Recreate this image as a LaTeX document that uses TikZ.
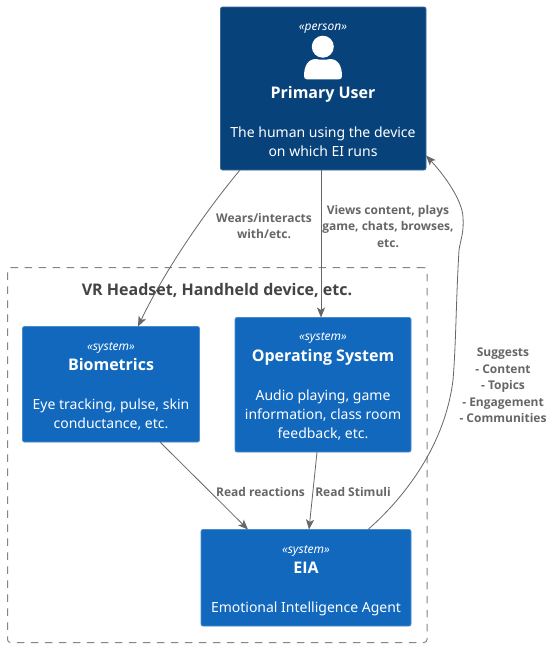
\documentclass[tikz,border=0pt]{standalone}
\usepackage{fontspec}
\setmainfont{Noto Sans}
\newfontfamily\boldfam{Open Sans}
\usetikzlibrary{arrows.meta,calc}
\definecolor{personfill}{HTML}{08427B}
\definecolor{personline}{HTML}{3C6A96}
\definecolor{sysfill}{HTML}{1168BD}
\definecolor{sysline}{HTML}{4A8BCB}
\definecolor{linkgray}{HTML}{666666}
\definecolor{boundgray}{HTML}{444444}
\tikzset{
  x=1pt,y=-1pt,
  box/.style={rounded corners=2pt,minimum width=#1,inner sep=0pt,line width=.8pt,anchor=north west,outer sep=0pt},
  sysbox/.style={draw=sysline,fill=sysfill},
  perbox/.style={draw=personline,fill=personfill},
  link/.style={draw=linkgray,line width=.8pt,-{Stealth[length=10pt,width=8pt,inset=2.5pt,fill=linkgray]}},
  stereotxt/.style={inner sep=0pt,anchor=base,text=white,font=\fontsize{12}{16}\selectfont\itshape},
  titletxt/.style={inner sep=0pt,anchor=base,text=white,font=\fontsize{16}{21}\selectfont\boldfam\bfseries},
  desctxt/.style={inner sep=0pt,anchor=base,text=white,font=\fontsize{14}{19}\selectfont},
  lab/.style={align=center,inner sep=0pt,anchor=north,text=linkgray,font=\fontsize{12}{16.4}\selectfont\boldfam\bfseries},
}
\begin{document}
\begin{tikzpicture}
\useasboundingbox (0,0) rectangle (553,648);
\fill[white] (0,0) rectangle (553,648);
% boundary
\node[draw=linkgray!80!white,dash pattern=on 7.5pt off 6.5pt,line width=1pt,rounded corners=3pt,minimum width=419.5pt,minimum height=375pt,anchor=north west,inner sep=0pt] (bound) at (7,267) {};
\node[inner sep=0pt,font=\fontsize{16}{20}\selectfont\boldfam\bfseries,text=boundgray,anchor=base] (boundlabel) at (217,295) {VR Headset, Handheld device, etc.};
% boxes
\node[box=205.5pt,perbox,minimum height=163pt] (user) at (220.5,7) {};
\node[box=177pt,sysbox,minimum height=115.5pt] (bio) at (22.5,326.5) {};
\node[box=176pt,sysbox,minimum height=134.5pt] (os) at (235,317.5) {};
\node[box=210pt,sysbox,minimum height=96.5pt] (eia) at (201,529.5) {};
% user
\node[stereotxt] (ust) at (323,30.5) {«person»};
\fill[white] (322.8,46.7) circle (11);
\fill[white] (304,76) .. controls (304,66) and (308,59) .. (316,59) .. controls (319,60) and (327,60) .. (330,59) .. controls (338,59) and (342,66) .. (342,76) .. controls (342,78) and (341,79.3) .. (339,79.3) -- (307,79.3) .. controls (305,79.3) and (304,78) .. (304,76) -- cycle;
\node[titletxt] (uti) at (323,98) {Primary User};
\node[desctxt] (ud1) at (323,137) {The human using the device};
\node[desctxt] (ud2) at (323,156) {on which EI runs};
% bio
\node[stereotxt] (bst) at (111,350) {«system»};
\node[titletxt] (bti) at (111,370) {Biometrics};
\node[desctxt] (bd1) at (111,409) {Eye tracking, pulse, skin};
\node[desctxt] (bd2) at (111,428) {conductance, etc.};
% os
\node[stereotxt] (ost) at (323,340) {«system»};
\node[titletxt] (oti) at (323,361) {Operating System};
\node[desctxt] (od1) at (323,400) {Audio playing, game};
\node[desctxt] (od2) at (323,419) {information, class room};
\node[desctxt] (od3) at (323,438) {feedback, etc.};
% eia
\node[stereotxt] (est) at (306,553) {«system»};
\node[titletxt] (eti) at (306,573) {EIA};
\node[desctxt] (ed1) at (306,612) {Emotional Intelligence Agent};
% connectors
\draw[link] ([xshift=19.5pt]user.south west) .. controls (205,212) and (165,270) .. ([xshift=115.5pt]bio.north west);
\draw[link] ([xshift=100.5pt]user.south west) -- ([xshift=86pt]os.north west);
\draw[link] ([xshift=137.5pt]bio.south west) -- ([xshift=47pt]eia.north west);
\draw[link] ([xshift=82pt]os.south west) -- ([xshift=108pt]eia.north west);
\draw[link] ([xshift=167pt]eia.north west) .. controls (405,497) and (445,445) .. (453,380) .. controls (456,345) and (456,300) .. (459,250) .. controls (461,238) and (464,232) .. (463,217) .. controls (462,200) and (445,176) .. ([yshift=14.5pt]user.south east);
% labels
\node[lab] (l1) at (264,213) {Wears/interacts\\with/etc.};
\node[lab] (l2) at (388,205) {Views content, plays\\game, chats, browses,\\etc.};
\node[lab] (l3) at (260.5,487) {Read reactions};
\node[lab] (l4) at (353,487) {Read Stimuli};
\node[lab] (l5) at (503,348) {Suggests\\- Content\\- Topics\\- Engagement\\- Communities};
\end{tikzpicture}
\end{document}
